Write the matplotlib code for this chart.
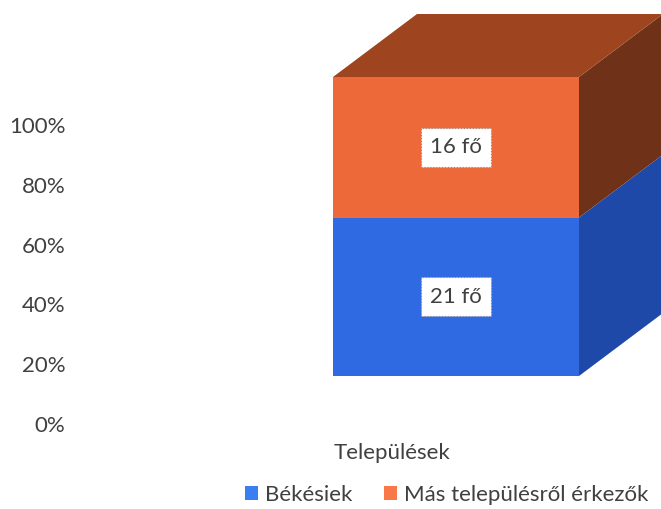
import matplotlib
matplotlib.use('Agg')
import matplotlib.pyplot as plt
from matplotlib.patches import Polygon, Patch

plt.rcParams['font.family'] = ['Lato', 'DejaVu Sans']

# Data
category = 'Települések'
series = ['Békésiek', 'Más településről érkezők']
shares = [53, 47]
bar_labels = ['21 fő', '16 fő']
yticks = [0, 20, 40, 60, 80, 100]

front_colors = ['#2f6ae2', '#ee693a']
side_colors = ['#1f49a8', '#6f3218']
legend_colors = ['#3b7df2', '#f8784a']
top_color = '#9e4520'
text_color = '#404040'

W, H = 661, 509
fig = plt.figure(figsize=(W / 100, H / 100), dpi=100)
ax = fig.add_axes([75 / W, (H - 424) / H, (W - 75) / W, 299 / H])

# axes is 586 px wide, one bar width is 246 px
ax.set_xlim(-381 / 246, 205 / 246)
ax.set_ylim(0, 100)

# 3D look: front face lifted off the axis, depth goes up and to the right
lift = 48 / 2.99
dx = 84 / 246
dy = 63 / 2.99

bottom = lift
for i in range(len(series)):
    bar = ax.bar(0, shares[i], width=1, bottom=bottom, color=front_colors[i],
                 clip_on=False, zorder=3)[0]
    x1 = bar.get_x() + bar.get_width()
    x0 = bar.get_x()
    y0 = bar.get_y()
    y1 = y0 + bar.get_height()
    ax.add_patch(Polygon([(x1, y0), (x1 + dx, y0 + dy), (x1 + dx, y1 + dy), (x1, y1)],
                         facecolor=side_colors[i], clip_on=False, zorder=2))
    if i == len(series) - 1:
        ax.add_patch(Polygon([(x0, y1), (x0 + dx, y1 + dy), (x1 + dx, y1 + dy), (x1, y1)],
                             facecolor=top_color, clip_on=False, zorder=2))
    ax.text(0, (y0 + y1) / 2, bar_labels[i], ha='center', va='center', fontsize=16,
            color=text_color, zorder=5,
            bbox=dict(boxstyle='square,pad=0.42', facecolor='white', edgecolor='#8a8a8a',
                      linestyle=':', linewidth=0.8))
    bottom += shares[i]

ax.set_yticks(yticks)
ax.set_yticklabels([f'{v}%' for v in yticks], fontsize=16, color=text_color)
ax.set_xticks([])
ax.tick_params(axis='y', length=0, pad=7)
for s in ax.spines.values():
    s.set_visible(False)

fig.text(392 / W, 1 - 453 / H, category, ha='center', va='center', fontsize=16, color=text_color)

handles = [Patch(facecolor=c) for c in legend_colors]
fig.legend(handles, series, loc='center right', bbox_to_anchor=(648 / W, 1 - 495 / H), ncol=2,
           frameon=False, fontsize=16, labelcolor=text_color, handlelength=0.58, handleheight=0.58,
           handletextpad=0.3, columnspacing=1.44, borderpad=0, borderaxespad=0)

fig.savefig('out.png', dpi=100)
